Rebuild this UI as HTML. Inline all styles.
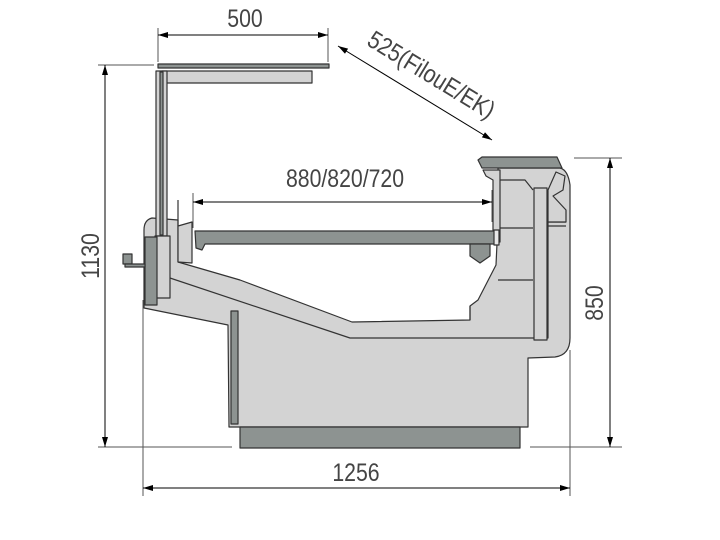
<!DOCTYPE html>
<html><head><style>html,body{margin:0;padding:0;background:#fff}svg{display:block}</style></head>
<body>
<svg width="720" height="540" viewBox="0 0 720 540" xmlns="http://www.w3.org/2000/svg" font-family="Liberation Sans, sans-serif">
<defs>
<marker id="a" viewBox="0 0 10 6" refX="10" refY="3" markerWidth="16" markerHeight="6" orient="auto-start-reverse" markerUnits="userSpaceOnUse"><path d="M0,0L10,3L0,6z" fill="#000"/></marker>
</defs>
<g stroke="#555" stroke-width="1" fill="none">
<line x1="158" y1="28" x2="158" y2="62"/><line x1="328" y1="28" x2="328" y2="62"/>
<line x1="98" y1="65" x2="154" y2="65"/><line x1="98" y1="447" x2="232" y2="447"/>
<line x1="530" y1="447" x2="622" y2="447"/><line x1="574" y1="158" x2="622" y2="158"/>
<line x1="143" y1="300" x2="143" y2="496"/><line x1="570" y1="350" x2="570" y2="496"/>
<line x1="193" y1="193" x2="193" y2="228"/><line x1="492" y1="190" x2="492" y2="222"/>
</g>
<g stroke="#000" stroke-width="1">
<line x1="158" y1="35" x2="328" y2="35" marker-start="url(#a)" marker-end="url(#a)"/>
<line x1="338" y1="46" x2="492" y2="140" marker-start="url(#a)" marker-end="url(#a)"/>
<line x1="105" y1="65" x2="105" y2="447" marker-start="url(#a)" marker-end="url(#a)"/>
<line x1="610" y1="158" x2="610" y2="447" marker-start="url(#a)" marker-end="url(#a)"/>
<line x1="143" y1="488" x2="570" y2="488" marker-start="url(#a)" marker-end="url(#a)"/>
<line x1="193" y1="202" x2="492" y2="202" marker-start="url(#a)" marker-end="url(#a)"/>
</g>
<g fill="#444" font-size="25">
<text transform="translate(245,27) scale(0.85,1)" text-anchor="middle">500</text>
<text transform="translate(345,187) scale(0.85,1)" text-anchor="middle">880/820/720</text>
<text transform="translate(356,481) scale(0.85,1)" text-anchor="middle">1256</text>
<text transform="translate(99,256) rotate(-90) scale(0.85,1)" text-anchor="middle">1130</text>
<text transform="translate(603,303) rotate(-90) scale(0.85,1)" text-anchor="middle">850</text>
<text transform="translate(427,82) rotate(31.5) scale(0.85,1)" text-anchor="middle">525(FilouE/EK)</text>
</g>
<g stroke="#333" stroke-width="1.2" stroke-linejoin="round">
<path fill="#d3d3d3" d="M152,218 Q144,220 144,230 L144,308 L228,325 L229,427 L528,427 L528,358 L555,357 Q570,355 570,338 L570,185 Q568,170 560,168 L498,168 L498,222 L496,265 L478,300 L470,306 L470,320 L352,322 L240,280 L178,262 L178,220 Z"/>
<path fill="none" d="M152,272 L350,338 L548,338 L548,190"/>
<path fill="none" d="M470,306 L470,320"/>
<path fill="#d3d3d3" d="M534,188 L547,188 L547,340 L534,340 Z"/>
<path fill="none" d="M498,228 L533,228 M498,280 L533,280 M548,222 L566,222 M548,226 L566,226 M533,190 L525,180 L500,180"/>
<path fill="#d3d3d3" d="M556,172 L565,176 L563,190 L553,196 L566,210 L566,222 L548,222 L548,190 Z"/>
<path fill="#8d9391" d="M478,160 L482,157 L557,157 L562,168 L482,168 Z"/>
<path fill="#d3d3d3" d="M483,170 L500,170 L500,242 L493,242 L493,180 L486,176 Z"/>
<path fill="#8d9391" d="M195,231 L495,231 L495,244 L205,244 L202,250 L196,248 Z"/>
<path fill="#8d9391" d="M470,244 L490,244 L490,256 L480,263 L470,256 Z"/>
<rect x="494" y="230" width="5" height="15" fill="#e8e8e8"/>
<rect x="158" y="64" width="171" height="4" fill="#8d9391"/>
<rect x="162" y="71" width="150" height="12" fill="#d3d3d3"/>
<path fill="#d3d3d3" d="M156,71 L167,71 L167,236 L156,236 Z"/>
<rect x="160" y="72" width="3" height="163" fill="#8d9391"/>
<path fill="#d3d3d3" d="M155,236 L170,236 L170,298 L155,298 Z"/>
<path fill="#d3d3d3" d="M178,226 L192,222 L192,263 L178,262 Z"/>
<line x1="178" y1="200" x2="178" y2="226"/>
<rect x="145" y="237" width="12" height="68" fill="#8d9391"/>
<rect x="123" y="254" width="9" height="10" fill="#8d9391"/>
<rect x="125" y="264" width="20" height="3" fill="#8d9391"/>
<rect x="231" y="311" width="7" height="113" fill="#8d9391"/>
<rect x="240" y="427" width="280" height="21" fill="#8d9391"/>
</g>
</svg>
</body></html>
